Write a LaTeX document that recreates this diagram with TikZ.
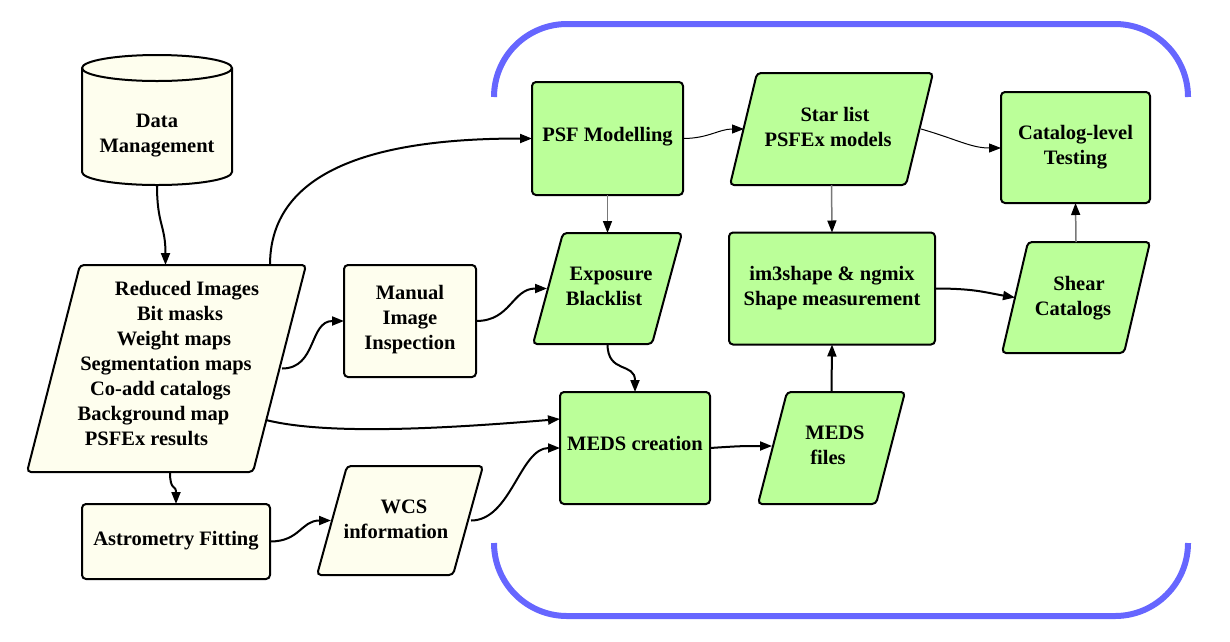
\documentclass[tikz,border=0pt]{standalone}
\usepackage{fontspec}
\setmainfont{Liberation Serif}
\usetikzlibrary{arrows.meta,backgrounds}
\definecolor{cream}{RGB}{254,254,238}
\definecolor{lgreen}{RGB}{187,255,153}
\definecolor{bblue}{RGB}{102,102,255}
\definecolor{lgray}{RGB}{120,120,120}
\newcommand\shiftln[2]{\makebox[0pt]{\hspace*{#1pt}\hspace*{#1pt}#2}}
\begin{document}
\begin{tikzpicture}[x=1pt,y=-1pt,
  txt/.style={font=\fontsize{20.5}{25}\selectfont\bfseries, align=center, inner sep=0pt},
  pbox/.style={inner sep=0pt, outer sep=0pt},
  rbox/.style={draw, line width=2pt, rounded corners=4pt, inner sep=0pt, outer sep=0pt},
  pshape/.style={draw, line width=2pt, rounded corners=4pt},
  cr/.style={fill=cream},
  gr/.style={fill=lgreen},
  thickarr/.style={line width=2pt, -{Triangle[length=12pt,width=9pt]}},
  thinarr/.style={line width=1pt, -{Triangle[length=12pt,width=9pt]}},
  grayarr/.style={line width=1.5pt, lgray, -{Triangle[length=12pt,width=9pt,color=black]}},
  bracket/.style={line width=6pt, bblue}
]
\useasboundingbox (0,0) rectangle (1230,641);

% blue brackets
\draw[bracket] (494,97) arc[start angle=180,end angle=90,radius=73pt] -- (1115,24) arc[start angle=90,end angle=0,radius=73pt];
\draw[bracket] (494,543) arc[start angle=180,end angle=270,radius=73pt] -- (1115,616) arc[start angle=270,end angle=360,radius=73pt];

% nodes
\node[pbox, minimum width=150pt, minimum height=104pt,
  label={[txt,yshift=-3pt]center:Data\\Management}] (dm) at (157,133) {};
\node[pbox, minimum width=279pt, minimum height=207pt,
  label={[txt,yshift=5pt]center:{\shiftln{20.5}{Reduced Images}\\\shiftln{13.5}{Bit masks}\\\shiftln{7.5}{Weight maps}\\\shiftln{-0.5}{Segmentation maps}\\\shiftln{-6}{Co-add catalogs}\\\shiftln{-13}{Background map}\\\shiftln{-20}{PSFEx results}}}] (ri) at (166.5,368.5) {};
\node[rbox, cr, minimum width=132pt, minimum height=112pt,
  label={[txt,yshift=1pt]center:Manual\\Image\\Inspection}] (mii) at (410,321) {};
\node[rbox, cr, minimum width=188pt, minimum height=75pt,
  label={[txt,yshift=0.5pt]center:Astrometry Fitting}] (af) at (176,541.5) {};
\node[pbox, minimum width=166pt, minimum height=109pt,
  label={[txt,yshift=1pt]center:{\shiftln{4}{WCS}\\\shiftln{-4}{information}}}] (wcs) at (400,520.5) {};
\node[rbox, gr, minimum width=151pt, minimum height=113pt,
  label={[txt,yshift=2pt]center:PSF Modelling}] (psf) at (607.5,138.5) {};
\node[pbox, minimum width=203pt, minimum height=112pt,
  label={[txt,yshift=2.5pt]center:{\shiftln{3.5}{Star list}\\\shiftln{-3.5}{PSFEx models}}}] (sl) at (831.5,129) {};
\node[rbox, gr, minimum width=149pt, minimum height=111pt,
  label={[txt]center:Catalog-level\\Testing}] (clt) at (1075.5,147.5) {};
\node[pbox, minimum width=149pt, minimum height=111pt,
  label={[txt,yshift=2pt]center:{\shiftln{3.5}{Exposure}\\\shiftln{-3.5}{Blacklist}}}] (eb) at (607.5,288.5) {};
\node[rbox, gr, minimum width=206pt, minimum height=112pt,
  label={[txt]center:im3shape \& ngmix\\Shape measurement}] (im3) at (832,288.5) {};
\node[pbox, minimum width=148pt, minimum height=111pt,
  label={[txt,yshift=-1pt]center:{\shiftln{3}{Shear}\\\shiftln{-3}{Catalogs}}}] (sc) at (1076,297.5) {};
\node[rbox, gr, minimum width=150pt, minimum height=112pt,
  label={[txt,yshift=5pt]center:MEDS creation}] (meds) at (635,448) {};
\node[pbox, minimum width=147pt, minimum height=112pt,
  label={[txt,yshift=2.5pt]center:{\shiftln{3.5}{MEDS}\\\shiftln{-3.5}{files}}}] (mf) at (831.5,448) {};

% shapes behind text
\begin{pgfonlayer}{background}
\draw[line width=2pt, fill=cream] (82,68) -- (82,172)
  arc[start angle=180,end angle=360,x radius=75pt,y radius=13pt] -- (232,68)
  arc[start angle=0,end angle=180,x radius=75pt,y radius=13pt] -- cycle;
\draw[line width=2pt] (82,68) arc[start angle=180,end angle=360,x radius=75pt,y radius=13pt];
\draw[pshape, cr] ([xshift=53pt]ri.north west) -- (ri.north east) -- ([xshift=-53pt]ri.south east) -- (ri.south west) -- cycle;
\draw[pshape, cr] ([xshift=30pt]wcs.north west) -- (wcs.north east) -- ([xshift=-30pt]wcs.south east) -- (wcs.south west) -- cycle;
\draw[pshape, gr] ([xshift=27pt]sl.north west) -- (sl.north east) -- ([xshift=-27pt]sl.south east) -- (sl.south west) -- cycle;
\draw[pshape, gr] ([xshift=30pt]eb.north west) -- (eb.north east) -- ([xshift=-30pt]eb.south east) -- (eb.south west) -- cycle;
\draw[pshape, gr] ([xshift=26pt]sc.north west) -- (sc.north east) -- ([xshift=-26pt]sc.south east) -- (sc.south west) -- cycle;
\draw[pshape, gr] ([xshift=29pt]mf.north west) -- (mf.north east) -- ([xshift=-29pt]mf.south east) -- (mf.south west) -- cycle;
\end{pgfonlayer}

% connectors
\draw[thickarr] (dm.south) .. controls +(0pt,-40pt) and +(0pt,40pt) .. ([xshift=-1pt]ri.north);
\draw[thickarr] ([xshift=103.5pt]ri.north) .. controls +(0pt,110pt) and +(-120pt,0pt) .. (psf.west);
\draw[thickarr] ([xshift=-24pt]ri.east) .. controls +(35pt,0pt) and +(-35pt,0pt) .. (mii.west);
\draw[thickarr] ([xshift=-40pt,yshift=-51.5pt]ri.east) .. controls +(60pt,-15pt) and +(-120pt,-10pt) .. ([yshift=29pt]meds.west);
\draw[thickarr] ([xshift=3.5pt]ri.south) .. controls +(0pt,-20pt) and +(0pt,20pt) .. (af.north);
\draw[thickarr] (af.east) .. controls +(30pt,0pt) and +(-30pt,0pt) .. ([xshift=14pt]wcs.west);
\draw[thickarr] ([xshift=-12pt]wcs.east) .. controls +(40pt,0pt) and +(-40pt,0pt) .. (meds.west);
\draw[thickarr] (mii.east) .. controls +(35pt,0pt) and +(-35pt,0pt) .. ([xshift=14pt]eb.west);
\draw[thickarr] (eb.south) .. controls +(0pt,-30pt) and +(0pt,30pt) .. (meds.north);
\draw[grayarr] (psf.south) -- (eb.north);
\draw[thinarr] (psf.east) .. controls +(25pt,0pt) and +(-25pt,0pt) .. ([xshift=14pt]sl.west);
\draw[thinarr] ([xshift=-12pt]sl.east) .. controls +(35pt,-10pt) and +(-30pt,0pt) .. ([yshift=-0.5pt]clt.west);
\draw[grayarr] (sl.south) -- (im3.north);
\draw[thickarr] (meds.east) .. controls +(30pt,2pt) and +(-30pt,0pt) .. ([xshift=14pt,yshift=2pt]mf.west);
\draw[thickarr] (mf.north) -- (im3.south);
\draw[thickarr] (im3.east) .. controls +(40pt,0pt) and +(-30pt,5pt) .. ([xshift=13pt]sc.west);
\draw[grayarr] (sc.north) -- (clt.south);
\end{tikzpicture}
\end{document}
